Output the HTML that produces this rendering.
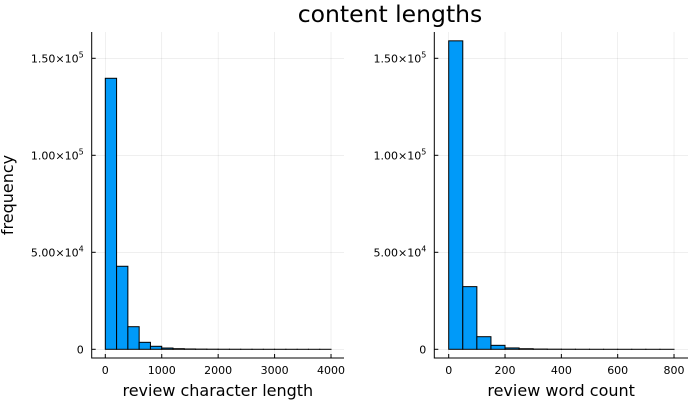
<!DOCTYPE html>
<html><head><meta charset="utf-8"><style>
body{margin:0;background:#fff}
svg{display:block;font-family:"DejaVu Sans","Liberation Sans",sans-serif}
</style></head><body>
<svg id="c" width="700" height="400" viewBox="0 0 700 400">
<text x="390" y="22" text-anchor="middle" font-size="23.5" fill="#000">content lengths</text>
<text transform="translate(13,195) rotate(-90)" text-anchor="middle" font-size="16">frequency</text>
</svg>
<script>
const charBinWidth = 200;
const charCounts = [139700, 42800, 11650, 3600, 1550, 650, 320, 170, 100, 60, 40, 30, 20, 15, 10, 8, 6, 5, 4, 3];
const wordBinWidth = 50;
const wordCounts = [159000, 32300, 6500, 2050, 700, 300, 130, 70, 40, 25, 15, 10, 8, 6, 5, 4];
const yTicks = [0, 50000, 100000, 150000];
const yTickMant = ["0", "5.00", "1.00", "1.50"];
const yTickExp = ["", "4", "5", "5"];
const charXTicks = [0, 1000, 2000, 3000, 4000];
const wordXTicks = [0, 200, 400, 600, 800];

const svg = document.getElementById('c');
const NS = 'http://www.w3.org/2000/svg';
function mk(tag, attrs, parent) {
  const e = document.createElementNS(NS, tag);
  for (const k in attrs) e.setAttribute(k, attrs[k]);
  (parent || svg).appendChild(e);
  return e;
}
const yZero = 349.3, yPer = 97 / 50000;
function ys(v) { return yZero - v * yPer; }

function panel(name, left, right, x0px, xPxPerUnit, binW, counts, xTicks, xlabel) {
  const g = mk('g', {});
  
  
  const xs = v => x0px + v * xPxPerUnit;
  xTicks.forEach(t => {
    const l = mk('line', {x1: xs(t), x2: xs(t), y1: 32, y2: 358, stroke: '#000', 'stroke-opacity': 0.1, 'stroke-width': 0.6}, g);
    
    
  });
  yTicks.forEach(t => {
    const l = mk('line', {x1: left, x2: right, y1: ys(t), y2: ys(t), stroke: '#000', 'stroke-opacity': 0.1, 'stroke-width': 0.6}, g);
    
    
  });
  counts.forEach((c, i) => {
    const x1 = xs(i * binW), x2 = xs((i + 1) * binW);
    const r = mk('rect', {x: x1, y: ys(c), width: x2 - x1, height: yZero - ys(c), fill: '#009af9', stroke: '#000', 'stroke-width': 1}, g);
    
    
  });
  const ax = mk('path', {d: `M${left},32 V358 H${right}`, fill: 'none', stroke: '#000', 'stroke-width': 1}, g);
  
  
  yTicks.forEach((t, i) => {
    mk('line', {x1: left, x2: left + 4, y1: ys(t), y2: ys(t), stroke: '#000'}, g);
    const tx = mk('text', {x: left - 8, y: ys(t) + 4, 'text-anchor': 'end', 'font-size': 11}, g);
    
    
    if (yTickExp[i]) {
      tx.textContent = yTickMant[i] + '×10';
      const s = mk('tspan', {dy: -5, 'font-size': 8}, tx);
      s.textContent = yTickExp[i];
    } else tx.textContent = yTickMant[i];
  });
  xTicks.forEach(t => {
    mk('line', {x1: xs(t), x2: xs(t), y1: 358, y2: 354, stroke: '#000'}, g);
    const tx = mk('text', {x: xs(t), y: 374, 'text-anchor': 'middle', 'font-size': 11}, g);
    
    
    tx.textContent = t;
  });
  const xl = mk('text', {x: (left + right) / 2, y: 396, 'text-anchor': 'middle', 'font-size': 16}, g);
  
  
  xl.textContent = xlabel;
}
panel('character-length', 91.7, 344, 105.3, 56.43 / 1000, charBinWidth, charCounts, charXTicks, 'review character length');
panel('word-count', 434.3, 688, 448.7, 56.33 / 200, wordBinWidth, wordCounts, wordXTicks, 'review word count');
</script>
</body></html>
